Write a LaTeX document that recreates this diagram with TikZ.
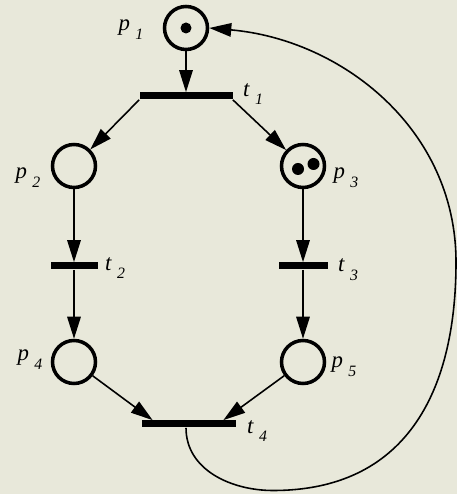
\documentclass[tikz,border=0pt]{standalone}
\usepackage{fontspec}
\setmainfont{Liberation Serif}
\usetikzlibrary{arrows.meta,calc}
\definecolor{paper}{HTML}{E8E8DA}
\newcommand{\pnlab}[2]{\textit{#1}\hspace{3pt}\raisebox{-5pt}{\fontsize{9}{9}\selectfont\textit{#2}}}

\begin{document}
\begin{tikzpicture}[
  place/.style={circle,draw,line width=2pt,minimum size=0.86cm,inner sep=0pt},
  transition/.style={rectangle,fill=black,inner sep=0pt,minimum height=0.14cm},
  arc/.style={line width=0.9pt,-{Triangle[length=4.4mm,width=2.7mm]}},
  lab/.style={font=\fontsize{13}{13}\selectfont,inner sep=0pt}
]
\useasboundingbox (0,0) rectangle (9.14,9.88);
\fill[paper] (0,0) rectangle (9.14,9.88);
% Places
\node[place] (p1) at (3.72,9.32) {};
\node[place] (p2) at (1.48,6.56) {};
\node[place] (p3) at (6.06,6.56) {};
\node[place] (p4) at (1.48,2.64) {};
\node[place] (p5) at (6.06,2.64) {};
% Transitions
\node[transition,minimum width=1.86cm] (t1) at (3.72,7.96) {};
\node[transition,minimum width=0.94cm] (t2) at (1.48,4.56) {};
\node[transition,minimum width=0.98cm] (t3) at (6.06,4.56) {};
\node[transition,minimum width=1.88cm] (t4) at (3.78,1.40) {};
% Tokens
\fill (p1) circle (0.11);
\fill ($(p3)+(-0.1,-0.06)$) circle (0.12);
\fill ($(p3)+(0.21,0.04)$) circle (0.12);
% Labels
\node[lab] (lp1) at (2.62,9.28) {\pnlab{p}{1}};
\node[lab] (lt1) at (5.06,8.00) {\pnlab{t}{1}};
\node[lab] (lp2) at (0.56,6.32) {\pnlab{p}{2}};
\node[lab] (lp3) at (6.92,6.32) {\pnlab{p}{3}};
\node[lab] (lt2) at (2.30,4.52) {\pnlab{t}{2}};
\node[lab] (lt3) at (6.96,4.48) {\pnlab{t}{3}};
\node[lab] (lp4) at (0.60,2.68) {\pnlab{p}{4}};
\node[lab] (lp5) at (6.88,2.54) {\pnlab{p}{5}};
\node[lab] (lt4) at (5.14,1.26) {\pnlab{t}{4}};
% Arcs
\draw[arc] (p1) -- (t1);
\draw[arc] (t1.south west) -- (p2);
\draw[arc] (t1.south east) -- (p3);
\draw[arc] (p2) -- (t2);
\draw[arc] (t2) -- (p4);
\draw[arc] (p3) -- (t3);
\draw[arc] (t3) -- (p5);
\draw[arc] (p4) -- ($(t4.north west)+(0.22,0)$);
\draw[arc] (p5) -- ($(t4.north east)+(-0.26,0)$);
% Feedback arc t4 -> p1
\coordinate (bot) at (5.46,0.07);
\coordinate (rgt) at (9.12,4.64);
\draw[arc] ($(t4.south)+(-0.06,0)$) to[out=-90,in=180] (bot)
  to[out=0,in=-90,looseness=1.15] (rgt) to[out=90,in=-5] (p1.east);
\end{tikzpicture}
\end{document}
